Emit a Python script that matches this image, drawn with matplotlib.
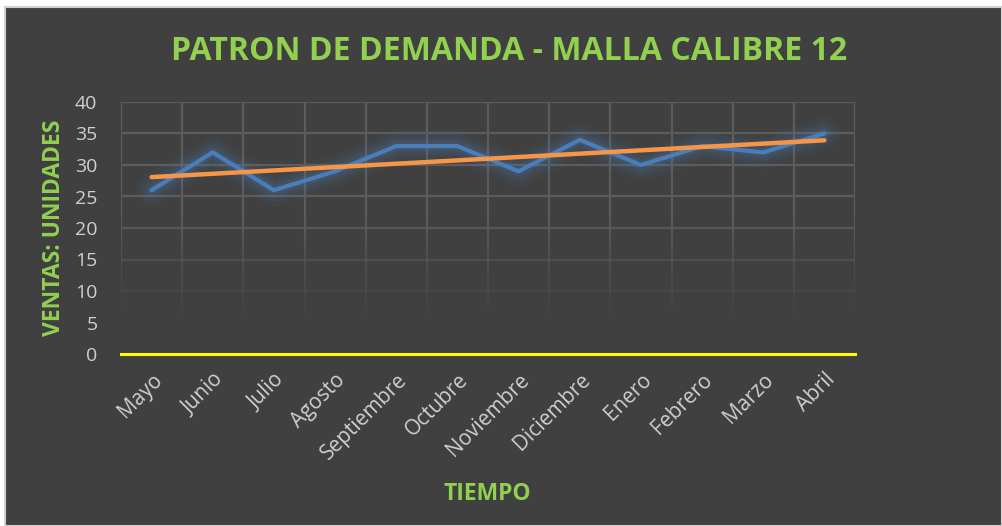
import numpy as np
import matplotlib.pyplot as plt
from matplotlib.patches import Rectangle
from matplotlib.collections import LineCollection

# data
meses = ["Mayo", "Junio", "Julio", "Agosto", "Septiembre", "Octubre",
         "Noviembre", "Diciembre", "Enero", "Febrero", "Marzo", "Abril"]
ventas = [26, 32, 26, 29, 33, 33, 29, 34, 30, 33, 32, 35]
yticks = [0, 5, 10, 15, 20, 25, 30, 35, 40]

bg = "#404040"
verde = "#92D050"
gris_txt = "#CFCFCF"

plt.rcParams['font.family'] = ['Open Sans', 'DejaVu Sans']

fig = plt.figure(figsize=(10.02, 5.26), dpi=100, facecolor="white")
# chart area
fig.patches.append(Rectangle((5 / 1002, 0), 1 - 5 / 1002, 1 - 7 / 526,
                             transform=fig.transFigure, facecolor=bg,
                             edgecolor="#D0D0D0", linewidth=1.5, zorder=-10))

ax = fig.add_axes([121 / 1002, 1 - 354 / 526, (855 - 121) / 1002, (354 - 102) / 526])
ax.patch.set_alpha(0)
x = np.arange(len(meses))
ax.set_xlim(-0.5, len(meses) - 0.5)
ax.set_ylim(0, 40)

# fading grid
grid_col = np.array([0x5c, 0x5c, 0x5c]) / 255
def fade(y):
    return np.clip((y - 4) / 18, 0, 1) ** 1.3

segs, cols = [], []
ys = np.linspace(0, 40, 81)
for xb in np.arange(-0.5, len(meses), 1.0):
    for y0, y1 in zip(ys[:-1], ys[1:]):
        segs.append([(xb, y0), (xb, y1)])
        cols.append((*grid_col, fade((y0 + y1) / 2)))
for yt in yticks[1:]:
    segs.append([(-0.5, yt), (len(meses) - 0.5, yt)])
    cols.append((*grid_col, fade(yt)))
ax.add_collection(LineCollection(segs, colors=cols, linewidths=1.6, zorder=1))

# yellow baseline
ax.axhline(0, color="#FFFF00", lw=2.2, zorder=2, clip_on=False)

# glow for blue line
for lw, a in [(24, 0.05), (17, 0.07), (12, 0.09), (7, 0.13)]:
    ax.plot(x, ventas, color="#4F81BD", lw=lw, alpha=a, solid_capstyle="round",
            solid_joinstyle="round", zorder=3)
ax.plot(x, ventas, color="#4A7EBB", lw=3, solid_capstyle="round", zorder=4)

# linear trend
m, b = np.polyfit(x, ventas, 1)
ax.plot(x, m * x + b, color="#F79646", lw=3.2, solid_capstyle="round", zorder=5)

for s in ax.spines.values():
    s.set_visible(False)
ax.set_yticks(yticks)
ax.set_yticklabels([str(v) for v in yticks], color=gris_txt, fontsize=14)
ax.set_xticks(x)
ax.set_xticklabels(meses, rotation=45, ha="right", rotation_mode="anchor",
                   color=gris_txt, fontsize=15)
ax.tick_params(axis="y", length=0, pad=17)
ax.tick_params(axis="x", length=0, pad=11)

ax.set_ylabel("VENTAS: UNIDADES", color=verde, fontsize=16.5, fontweight="bold")
ax.yaxis.set_label_coords(-(121 - 66) / 734, 0.5)
fig.text(487 / 1002, 1 - 494 / 526, "TIEMPO", color=verde, fontsize=16.5,
         fontweight="bold", ha="center", va="center")
fig.text(509 / 1002, 1 - 52 / 526, "PATRON DE DEMANDA - MALLA CALIBRE 12", color=verde,
         fontsize=23, fontweight="bold", ha="center", va="center")

fig.savefig("out.png", dpi=100, facecolor="white")
